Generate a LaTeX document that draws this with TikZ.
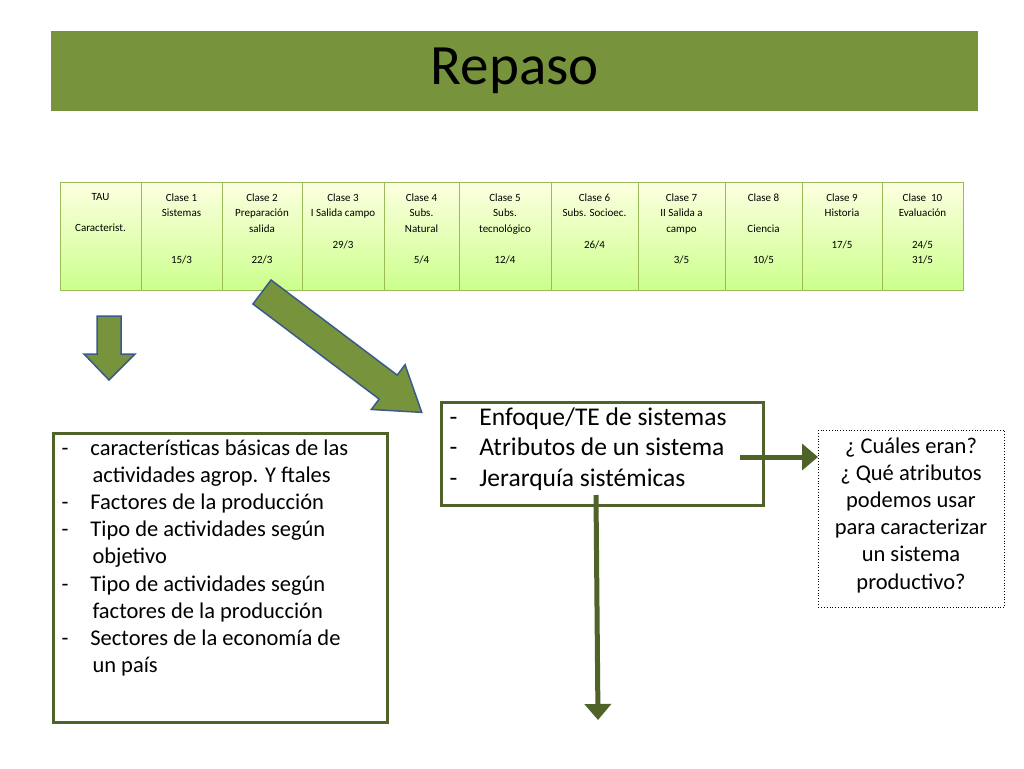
\documentclass[tikz,border=0pt]{standalone}
\usepackage{fontspec}
\setmainfont{Carlito}
\usetikzlibrary{arrows.meta,positioning}
\definecolor{olive}{HTML}{77933C}
\definecolor{darkolive}{HTML}{4F6228}
\definecolor{cellline}{HTML}{9BBB59}
\definecolor{arrowline}{HTML}{3B5A8A}
\tikzset{
  cell/.style={draw=cellline,top color=green!6!yellow!12,bottom color=green!45!yellow!45!white,
    minimum height=108pt,inner sep=0pt,anchor=north west},
  celltext/.style={anchor=north,align=center,font=\fontsize{11}{15.7}\selectfont},
  bodytext/.style={font=\fontsize{22.5}{27.2}\selectfont},
  blockarrow/.style={fill=olive,draw=arrowline,line width=1.5pt},
  thickarrow/.style={draw=darkolive,line width=5pt,-{Triangle[length=16pt,width=26pt]}}
}
\begin{document}
\begin{tikzpicture}[x=1pt,y=-1pt]
  \useasboundingbox (0,0) rectangle (1024,768);
  \fill[white] (0,0) rectangle (1024,768);

  % title
  \node[fill=olive,minimum width=927pt,minimum height=80pt,anchor=north west,inner sep=0pt,
        font=\fontsize{57}{60}\selectfont] (title) at (51,31) {\raisebox{-4pt}{Repaso}};

  % timetable
  \foreach \xa/\xb/\name/\txt in {
      60/141/tau/{TAU\\\\Caracterist.},
      141/222/c1/{Clase 1\\Sistemas\\\\\\15/3},
      222/302/c2/{Clase 2\\Preparación\\salida\\\\22/3},
      302/384/c3/{Clase 3\\I Salida campo\\\\29/3},
      384/459/c4/{Clase 4\\Subs.\\Natural\\\\5/4},
      459/551/c5/{Clase 5\\Subs.\\tecnológico\\\\12/4},
      551/638/c6/{Clase 6\\Subs. Socioec.\\\\26/4},
      638/725/c7/{Clase 7\\II Salida a\\campo\\\\3/5},
      725/802/c8/{Clase 8\\\\Ciencia\\\\10/5},
      802/882/c9/{Clase 9\\Historia\\\\17/5},
      882/963/c10/{Clase~ 10\\Evaluación\\\\24/5\\31/5}} {
    \node[cell,minimum width=\xb pt-\xa pt] (\name) at (\xa,182) {};
    \node[celltext] at ({(\xa+\xb)/2},190) {\txt};
  }

  % block arrows
  \draw[blockarrow] (97,316) -- (121,316) -- (121,354) -- (135,354) -- (109,380)
    -- (84,354) -- (97,354) -- cycle;
  \begin{scope}[shift={(262,292)},rotate=-37]
    \draw[blockarrow] (0,-15) -- (158,-15) -- (158,-28) -- (200,0) -- (158,28)
      -- (158,15) -- (0,15) -- cycle;
  \end{scope}

  % boxes
  \node[draw=darkolive,line width=2.5pt,minimum width=322pt,minimum height=103pt,
        anchor=north west,inner sep=0pt] (temas) at (440,401) {};
  \node[font=\fontsize{25.5}{30.5}\selectfont,anchor=north west,align=left]
    at (446,404) {-\hspace{22pt}Enfoque/TE de sistemas\\-\hspace{22pt}Atributos de un sistema\\-\hspace{22pt}Jerarquía sistémicas};

  \node[draw=darkolive,line width=2.5pt,minimum width=334pt,minimum height=289pt,
        anchor=north west,inner sep=0pt] (repaso) at (52,432) {};
  \node[bodytext,anchor=north west,align=left] at (58,436) {%
    -\hspace{22pt}características básicas de las\\
    \hspace{31pt}actividades agrop. Y ftales\\
    -\hspace{22pt}Factores de la producción\\
    -\hspace{22pt}Tipo de actividades según\\
    \hspace{31pt}objetivo\\
    -\hspace{22pt}Tipo de actividades según\\
    \hspace{31pt}factores de la producción\\
    -\hspace{22pt}Sectores de la economía de\\
    \hspace{31pt}un país};

  \node[draw,dotted,thick,minimum width=186pt,minimum height=177pt,anchor=north west,
        inner sep=0pt] (preg) at (818,430) {};
  \node[bodytext,align=center,anchor=north] at (911,434) {¿ Cuáles eran?\\¿ Qué atributos\\podemos usar\\para caracterizar\\un sistema\\productivo?};

  % connectors
  \coordinate (abajo) at (598,720);
  \draw[thickarrow] (740,457) -- (preg.west |- 0,457);
  \draw[thickarrow] (596,495) -- (abajo);
\end{tikzpicture}
\end{document}
